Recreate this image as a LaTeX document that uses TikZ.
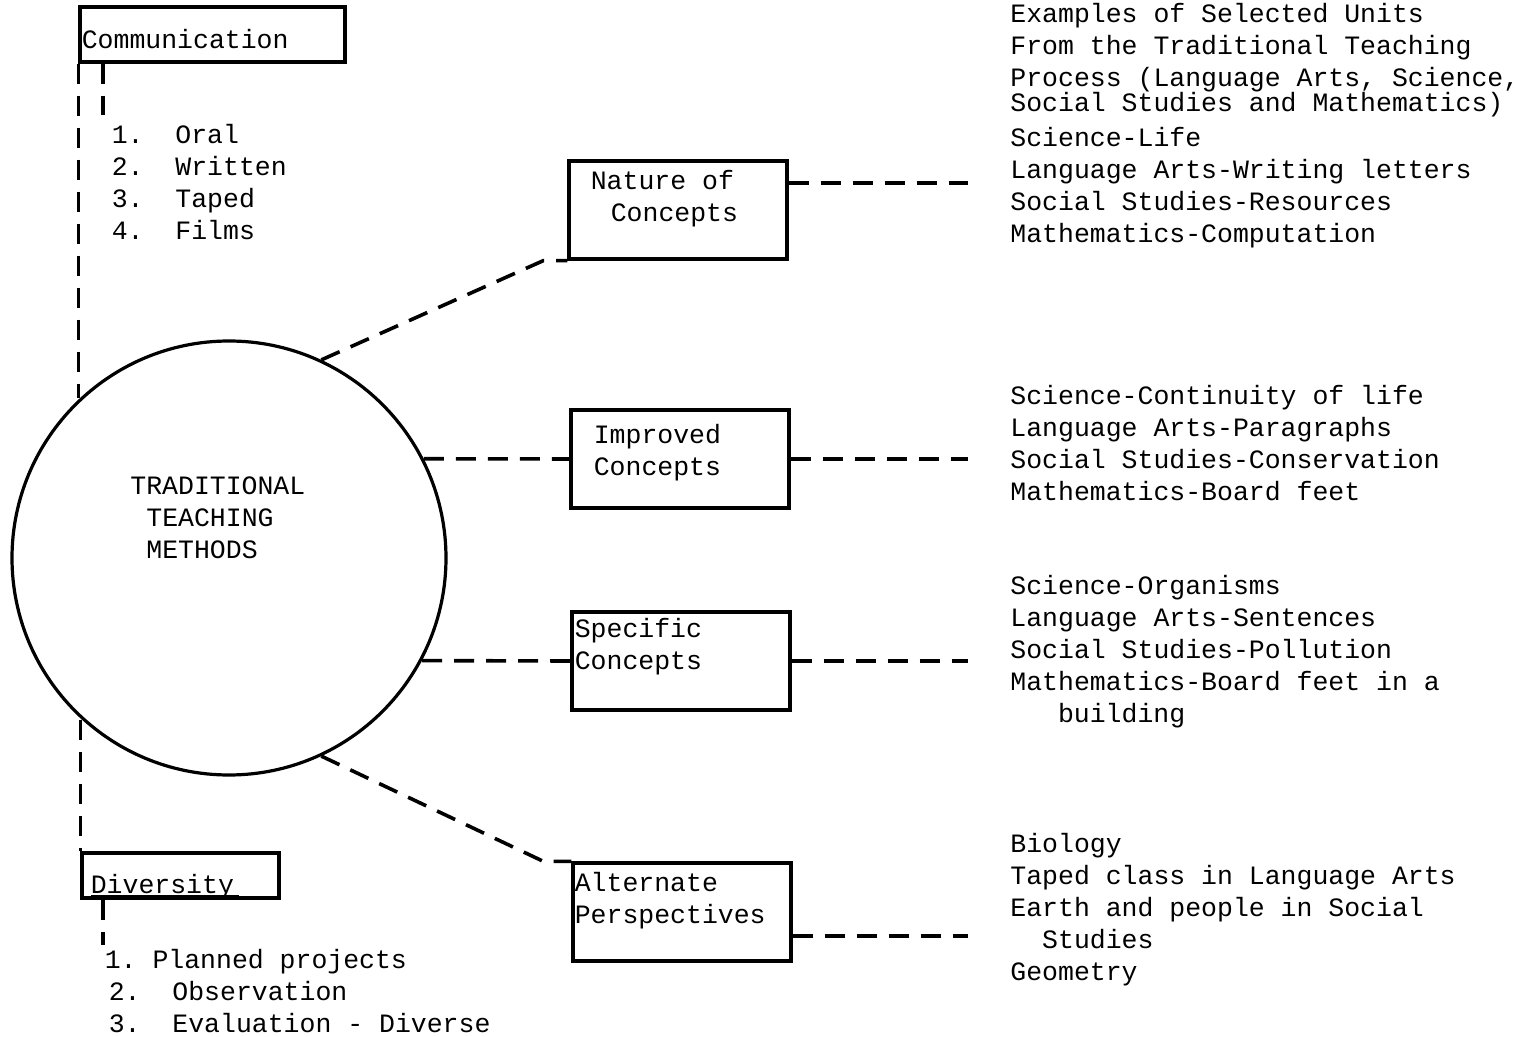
\documentclass[tikz,border=0pt]{standalone}
\usepackage{fontspec}
\newfontfamily\typew{Liberation Mono}
\usetikzlibrary{positioning}
\tikzset{
    frame/.style={rectangle, draw=black, line width=1.6pt, inner sep=0pt},
    concept/.style={frame, minimum width=109pt, minimum height=49pt},
    hub/.style={circle, draw=black, line width=1.6pt, minimum size=217pt, inner sep=0pt},
    txt/.style={align=left, inner sep=0pt, anchor=north west, font=\typew\fontsize{13.25}{16}\selectfont\frenchspacing, execute at begin node=\strut},
    link/.style={line width=1.8pt, dash pattern=on 10pt off 6pt}
}

\begin{document}
\begin{tikzpicture}[x=0.5pt, y=-0.5pt]
        \useasboundingbox (0,0) rectangle (1533,1037);

        % Central circle
        \node[hub] (TTM) at (229,558) {};
        \node[txt] (TTMText) at (130,476) {TRADITIONAL\\\hspace*{8pt}TEACHING\\\hspace*{8pt}METHODS};

        % Communication
        \node[frame, minimum width=132.5pt, minimum height=27.5pt] (Comm) at (212.5,34.5) {};
        \node[txt, below right=10.3pt and 1.5pt of Comm.north west] (CommText) {Communication};
        \node[txt, below right=30.3pt and 16.5pt of Comm.south west] (CommList) {1.\ \ Oral\\2.\ \ Written\\3.\ \ Taped\\4.\ \ Films};

        % Diversity
        \node[frame, minimum width=98.5pt, minimum height=22.5pt] (Div) at (180.5,875.5) {};
        \node[txt, below right=9.8pt and 5pt of Div.north west] (DivText) {\rlap{\rule[-1.2pt]{74pt}{0.8pt}}Diversity};
        \node[txt, below right=24.8pt and 12pt of Div.south west] (DivList) {1. Planned projects\\\hspace*{2pt}2.\ \ Observation\\\hspace*{2pt}3.\ \ Evaluation - Diverse};

        % Concept boxes
        \node[concept] (Nat) at (678,210) {};
        \node[txt, below right=5.5pt and 11.5pt of Nat.north west] (NatText) {Nature of\\\hspace*{10pt}Concepts};
        \node[concept] (Imp) at (680,459) {};
        \node[txt, below right=7.8pt and 12pt of Imp.north west] (ImpText) {Improved\\Concepts};
        \node[concept] (Spec) at (681,661) {};
        \node[txt, below right=3.8pt and 2pt of Spec.north west] (SpecText) {Specific\\Concepts};
        \node[concept] (Alt) at (682,912) {};
        \node[txt, below right=5.3pt and 1.5pt of Alt.north west] (AltText) {Alternate\\Perspectives};

        % Examples of units
        \node[txt] (Head) at (1010,2.6) {Examples of Selected Units\\From the Traditional Teaching\\Process (Language Arts, Science,\\[-3.5pt]Social Studies and Mathematics)};
        \node[txt] (NatEx) at (1010,126.6) {Science-Life\\Language Arts-Writing letters\\Social Studies-Resources\\Mathematics-Computation};
        \node[txt] (ImpEx) at (1010,384.6) {Science-Continuity of life\\Language Arts-Paragraphs\\Social Studies-Conservation\\Mathematics-Board feet};
        \node[txt] (SpecEx) at (1010,574.6) {Science-Organisms\\Language Arts-Sentences\\Social Studies-Pollution\\Mathematics-Board feet in a\\\hspace*{23.8pt}building};
        \node[txt] (AltEx) at (1010,832.6) {Biology\\Taped class in Language Arts\\Earth and people in Social\\\hspace*{15.9pt}Studies\\Geometry};

        % Free ends of the dashed links
        \coordinate (commtick) at (103,115);
        \coordinate (divtick) at (103,945);
        \coordinate (natend) at (968,183);
        \coordinate (impend) at (968,459);
        \coordinate (specend) at (968,661);
        \coordinate (altend) at (968,936);

        % Links
        \draw[link] (Comm.south west) -- (Comm.south west |- TTM.133);
        \draw[link] (Comm.south west -| commtick) -- (commtick);
        \draw[link] (Div.north west |- TTM.228) -- (Div.north west);
        \draw[link] (Div.south west -| divtick) -- (divtick);
        \draw[link] (TTM.65) -- ([xshift=-12pt]Nat.south west) -- (Nat.south west);
        \draw[link] (TTM.27) -- (Imp.west);
        \draw[link] (TTM.-28) -- (Spec.west);
        \draw[link] (TTM.-65) -- ([xshift=-14pt]Alt.north west) -- (Alt.north west);
        \draw[link] (Nat.east |- natend) -- (natend);
        \draw[link] (Imp.east) -- (impend);
        \draw[link] (Spec.east) -- (specend);
        \draw[link] (Alt.east |- altend) -- (altend);
    \end{tikzpicture}
\end{document}
